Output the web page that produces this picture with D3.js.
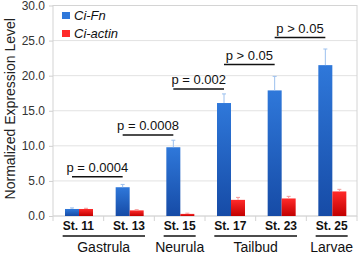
<!DOCTYPE html>
<html>
<head>
<meta charset="utf-8">
<script src="https://cdn.jsdelivr.net/npm/d3@7"></script>
<style>
  body { margin: 0; background: #fff; }
  svg { font-family: "Liberation Sans", Arial, sans-serif; }
</style>
</head>
<body>
<svg id="chart"></svg>
<script>
// data
const stages = ['St. 11', 'St. 13', 'St. 15', 'St. 17', 'St. 23', 'St. 25'];
const series = ['Ci-Fn', 'Ci-actin'];
const fnValues = [1.0, 4.1, 9.8, 16.1, 17.9, 21.5];
const fnErrors = [0.15, 0.4, 1.0, 1.3, 2.0, 2.3];
const actinValues = [1.0, 0.8, 0.3, 2.3, 2.5, 3.5];
const actinErrors = [0.1, 0.1, 0.1, 0.35, 0.3, 0.3];
const groups = ['Gastrula', 'Neurula', 'Tailbud', 'Larvae'];
const groupStages = [['St. 11', 'St. 13'], ['St. 15'], ['St. 17', 'St. 23'], ['St. 25']];
const pLabels = ['p = 0.0004', 'p = 0.0008', 'p = 0.002', 'p > 0.05', 'p > 0.05'];
const pFrom = ['St. 11', 'St. 13', 'St. 15', 'St. 17', 'St. 23'];
const pTo = ['St. 13', 'St. 15', 'St. 17', 'St. 23', 'St. 25'];
const pLevel = [5.6, 11.55, 18.1, 21.6, 25.45];
const yTicks = [0, 5, 10, 15, 20, 25, 30];

const width = 360, height = 254;
const margin = { top: 5.5, right: 3, bottom: 38, left: 53 };

const svg = d3.select('#chart').attr('width', width).attr('height', height);

const x = d3.scaleBand().domain(stages).range([margin.left, width - margin.right]);
const x1 = d3.scaleBand().domain(series).range([12, 40]);
const y = d3.scaleLinear().domain([0, 30]).range([height - margin.bottom, margin.top]);

const colors = { 'Ci-Fn': ['#2f78da', '#164ba6'], 'Ci-actin': ['#ff2a2a', '#c20000'] };
const errColors = { 'Ci-Fn': '#9cc0ee', 'Ci-actin': '#f59a9a' };

const defs = svg.append('defs');
series.forEach((s, i) => {
    const g = defs.append('linearGradient')
        .attr('id', 'grad' + i)
        .attr('x1', 0).attr('y1', 0).attr('x2', 0).attr('y2', 1);
    g.append('stop').attr('offset', '0%').attr('stop-color', colors[s][0]);
    g.append('stop').attr('offset', '100%').attr('stop-color', colors[s][1]);
});

// grid
svg.append('g')
    .selectAll('line')
    .data(yTicks)
    .join('line')
    .attr('x1', margin.left).attr('x2', width - margin.right)
    .attr('y1', d => y(d)).attr('y2', d => y(d))
    .attr('stroke', '#e2e2e2');

// plot frame
svg.append('rect')
    .attr('x', margin.left).attr('y', margin.top)
    .attr('width', width - margin.right - margin.left)
    .attr('height', y(0) - margin.top)
    .attr('fill', 'none').attr('stroke', '#d4d4d4');

// y axis
const yAxis = d3.axisLeft(y).tickValues(yTicks).tickFormat(d3.format('.1f')).tickSize(4).tickPadding(4);
svg.append('g')
    .attr('transform', `translate(${margin.left},0)`)
    .call(yAxis)
    .call(g => g.select('.domain').remove())
    .call(g => g.selectAll('.tick line').attr('stroke', '#cfcfcf'))
    .call(g => g.selectAll('.tick text').attr('font-size', 12).attr('fill', '#333')
        .attr('font-family', '"Liberation Sans", Arial, sans-serif'));

// separators between stages under the baseline
svg.append('g')
    .selectAll('line')
    .data(d3.range(stages.length + 1))
    .join('line')
    .attr('x1', i => margin.left + i * x.step()).attr('x2', i => margin.left + i * x.step())
    .attr('y1', y(0)).attr('y2', y(0) + 5)
    .attr('stroke', '#d4d4d4');

// bars
const rows = stages.map((st, i) => ({
    stage: st,
    bars: [
        { key: 'Ci-Fn', value: fnValues[i], err: fnErrors[i] },
        { key: 'Ci-actin', value: actinValues[i], err: actinErrors[i] }
    ]
}));

const grp = svg.append('g')
    .selectAll('g')
    .data(rows)
    .join('g')
    .attr('transform', d => `translate(${x(d.stage)},0)`);

grp.selectAll('rect')
    .data(d => d.bars)
    .join('rect')
    .attr('x', d => x1(d.key))
    .attr('y', d => y(d.value))
    .attr('width', x1.bandwidth())
    .attr('height', d => y(0) - y(d.value))
    .attr('fill', d => `url(#grad${series.indexOf(d.key)})`);

// error bars (upper only)
grp.selectAll('.err')
    .data(d => d.bars)
    .join('path')
    .attr('class', 'err')
    .attr('d', d => {
        const cx = x1(d.key) + x1.bandwidth() / 2;
        const top = y(d.value + d.err);
        return `M${cx},${y(d.value)}V${top}M${cx - 2},${top}H${cx + 2}`;
    })
    .attr('stroke', d => errColors[d.key])
    .attr('fill', 'none')
    .attr('stroke-width', 1);

// p-value brackets
const blueCenter = st => x(st) + x1('Ci-Fn') + x1.bandwidth() / 2;
const pg = svg.append('g');
pLabels.forEach((lab, i) => {
    const a = blueCenter(pFrom[i]), b = blueCenter(pTo[i]);
    pg.append('line')
        .attr('x1', a).attr('x2', b)
        .attr('y1', y(pLevel[i])).attr('y2', y(pLevel[i]))
        .attr('stroke', '#111').attr('stroke-width', 1.5);
    pg.append('text')
        .attr('x', (a + b) / 2).attr('y', y(pLevel[i]) - 4.5)
        .attr('text-anchor', 'middle')
        .attr('font-size', 13).attr('fill', '#111')
        .text(lab);
});

// stage labels
const stageText = svg.append('g')
    .selectAll('text')
    .data(stages)
    .join('text')
    .attr('x', d => x(d) + x.bandwidth() / 2)
    .attr('y', 230)
    .attr('text-anchor', 'middle')
    .attr('font-size', 12).attr('font-weight', 'bold').attr('fill', '#111')
    .text(d => d);

const extent = {};
stageText.each(function (d) {
    const w = this.getComputedTextLength();
    const c = x(d) + x.bandwidth() / 2;
    extent[d] = [c - w / 2, c + w / 2];
});

// developmental groups
groups.forEach((g, i) => {
    const sts = groupStages[i];
    const left = extent[sts[0]][0], right = extent[sts[sts.length - 1]][1];
    const cx = (x(sts[0]) + x(sts[sts.length - 1]) + x.bandwidth()) / 2;
    svg.append('line')
        .attr('x1', left).attr('x2', right)
        .attr('y1', 236).attr('y2', 236)
        .attr('stroke', '#111').attr('stroke-width', 1.5);
    svg.append('text')
        .attr('x', cx).attr('y', 251.5)
        .attr('text-anchor', 'middle')
        .attr('font-size', 14).attr('fill', '#111')
        .text(g);
});

// y title
svg.append('text')
    .attr('transform', `translate(15,${(y(0) + margin.top) / 2 - 2}) rotate(-90)`)
    .attr('text-anchor', 'middle')
    .attr('font-size', 14).attr('fill', '#222')
    .text('Normalized Expression Level');

// legend
const leg = svg.append('g')
    .selectAll('g')
    .data(series)
    .join('g')
    .attr('transform', (d, i) => `translate(62,${12 + i * 18})`);
leg.append('rect')
    .attr('width', 8).attr('height', 7)
    .attr('fill', d => colors[d][0]);
leg.append('text')
    .attr('x', 12).attr('y', 7.5)
    .attr('font-size', 13).attr('font-style', 'italic').attr('fill', '#111')
    .text(d => d);
</script>
</body>
</html>
